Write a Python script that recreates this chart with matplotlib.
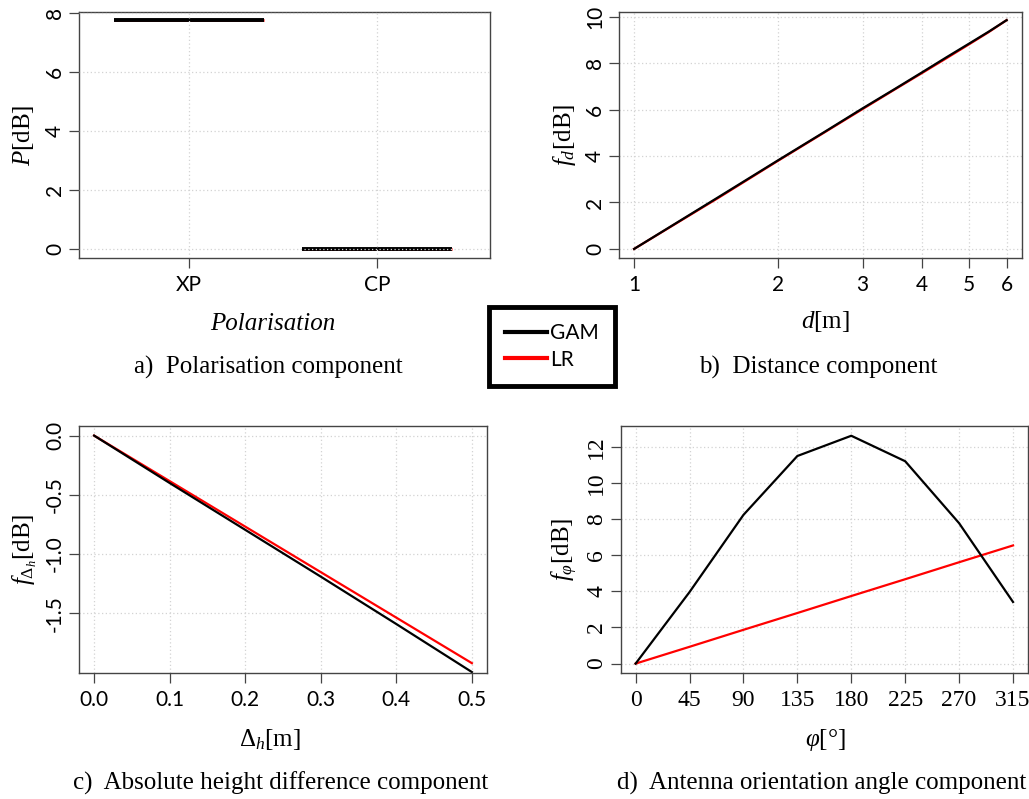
import matplotlib
matplotlib.use("Agg")
import matplotlib.pyplot as plt
from matplotlib.lines import Line2D

# model components: GAM smooth terms vs. linear regression terms
pol_categories = ["XP", "CP"]
pol_gam = [7.75, 0.0]
pol_lr = [7.75, 0.0]

dist_m = [1, 1.5, 2, 2.5, 3, 3.5, 4, 4.5, 5, 5.5, 6]
dist_gam = [0.0, 2.23, 3.82, 5.04, 6.05, 6.88, 7.61, 8.26, 8.83, 9.35, 9.85]
dist_lr = [0.0, 2.20, 3.80, 5.02, 6.02, 6.86, 7.58, 8.22, 8.80, 9.33, 9.85]

height_m = [0.0, 0.1, 0.2, 0.3, 0.4, 0.5]
height_gam = [0.0, -0.40, -0.795, -1.19, -1.59, -1.995]
height_lr = [0.0, -0.384, -0.768, -1.152, -1.536, -1.92]

angle_deg = [0, 45, 90, 135, 180, 225, 270, 315]
angle_gam = [0.0, 3.96, 8.23, 11.49, 12.61, 11.20, 7.77, 3.41]
angle_lr = [0.0, 0.93, 1.87, 2.80, 3.74, 4.67, 5.61, 6.54]

captions = ["a)  Polarisation component", "b)  Distance component",
            "c)  Absolute height difference component",
            "d)  Antenna orientation angle component"]

plt.rcParams["mathtext.fontset"] = "custom"
plt.rcParams["mathtext.rm"] = "Liberation Serif"
plt.rcParams["mathtext.it"] = "Liberation Serif:italic"

SERIF = "Liberation Serif"
SANS = "Lato"
W, H = 1029, 799
LABEL_SIZE = 18

fig = plt.figure(figsize=(W / 100, H / 100), dpi=100)


def add_ax(left, top, right, bottom):
    ax = fig.add_axes([left / W, 1 - bottom / H, (right - left) / W, (bottom - top) / H])
    ax.px_box = (left, top, right, bottom)
    return ax


def style(ax, tick_family, tick_size, grid_on_top=False):
    ax.grid(True, color="#d3d3d3", linestyle=(0, (1, 2)), linewidth=0.9)
    ax.set_axisbelow(not grid_on_top)
    for s in ax.spines.values():
        s.set_color("#444444")
        s.set_linewidth(1.0)
    ax.tick_params(direction="out", length=7, width=0.9, color="#444444")
    ax.tick_params(axis="x", pad=5)
    ax.tick_params(axis="y", pad=3)
    for lab in ax.get_xticklabels():
        lab.set_family(tick_family)
        lab.set_size(tick_size)
    for lab in ax.get_yticklabels():
        lab.set_family(tick_family)
        lab.set_size(tick_size)
        lab.set_rotation(90)
        lab.set_va("center")


def ylabel(ax, txt, x_px):
    left, top, right, bottom = ax.px_box
    ax.set_ylabel(txt, family=SERIF, size=LABEL_SIZE, va="center", ha="center")
    ax.yaxis.set_label_coords((x_px - left) / (right - left), 0.5)


def put_text(x, y, txt, **kw):
    fig.text(x / W, 1 - y / H, txt, family=SERIF, size=LABEL_SIZE, ha="center", va="center", **kw)


# a) polarisation
ax = add_ax(79, 12, 490, 258)
for i, (g, l) in enumerate(zip(pol_gam, pol_lr)):
    ax.plot([i + 1 - 0.4, i + 1 + 0.4], [l, l], color="red", lw=2, solid_capstyle="butt")
    ax.plot([i + 1 - 0.4, i + 1 + 0.4], [g, g], color="black", lw=2.8, solid_capstyle="butt")
ax.set_xlim(0.415, 2.6)
ax.set_ylim(-0.305, 8.034)
ax.set_xticks([1, 2])
ax.set_xticklabels(pol_categories)
ax.set_yticks([0, 2, 4, 6, 8])
style(ax, SANS, 15, grid_on_top=True)
ylabel(ax, "$P$[dB]", 23)
put_text(273, 324, "Polarisation", style="italic")
put_text(268, 367, captions[0])

# b) distance
ax = add_ax(619, 12, 1022, 258)
ax.plot(dist_m, dist_lr, color="red", lw=1.6)
ax.plot(dist_m, dist_gam, color="black", lw=1.6)
ax.set_xscale("log")
ax.set_xlim(0.93, 6.46)
ax.set_ylim(-0.39, 10.2)
ax.set_xticks([1, 2, 3, 4, 5, 6])
ax.set_xticklabels(["1", "2", "3", "4", "5", "6"])
ax.minorticks_off()
ax.set_yticks([0, 2, 4, 6, 8, 10])
style(ax, SANS, 15)
ylabel(ax, "$f_d$[dB]", 565)
put_text(825, 322, "$d$[m]")
put_text(818, 367, captions[1])

# c) height difference
ax = add_ax(79, 426, 487, 673)
ax.plot(height_m, height_lr, color="red", lw=1.6)
ax.plot(height_m, height_gam, color="black", lw=1.6)
ax.set_xlim(-0.02, 0.52)
ax.set_ylim(-2.003, 0.081)
ax.set_xticks([0.0, 0.1, 0.2, 0.3, 0.4, 0.5])
ax.set_xticklabels(["0.0", "0.1", "0.2", "0.3", "0.4", "0.5"])
ax.set_yticks([0.0, -0.5, -1.0, -1.5])
ax.set_yticklabels(["0.0", "-0.5", "-1.0", "-1.5"])
style(ax, SANS, 15)
ylabel(ax, r"$f_{\mathit{\Delta}_h}$[dB]", 25)
put_text(270, 740, r"$\mathit{\Delta}_h$[m]")
put_text(281, 783, captions[2])

# d) antenna orientation
ax = add_ax(621, 426, 1028, 673)
ax.plot(angle_deg, angle_lr, color="red", lw=1.6)
ax.plot(angle_deg, angle_gam, color="black", lw=1.6)
ax.set_xlim(-12.2, 327.5)
ax.set_ylim(-0.52, 13.15)
ax.set_xticks(angle_deg)
ax.set_yticks([0, 2, 4, 6, 8, 10, 12])
style(ax, SERIF, 17)
ylabel(ax, r"$f_\varphi$[dB]", 565)
put_text(825, 740, r"$\varphi$[°]")
put_text(822, 783, captions[3])

# shared legend
handles = [Line2D([], [], color="black", lw=3), Line2D([], [], color="red", lw=3)]
leg = fig.legend(handles, ["GAM", "LR"], loc="center", bbox_to_anchor=(552 / W, 1 - 346.5 / H),
                 prop={"family": SANS, "size": 15}, fancybox=False, edgecolor="black",
                 handlelength=2.0, handletextpad=0.15, borderpad=0.8, labelspacing=0.3,
                 borderaxespad=0, framealpha=1)
leg.get_frame().set_linewidth(3.5)

fig.savefig("out.png", dpi=100)
